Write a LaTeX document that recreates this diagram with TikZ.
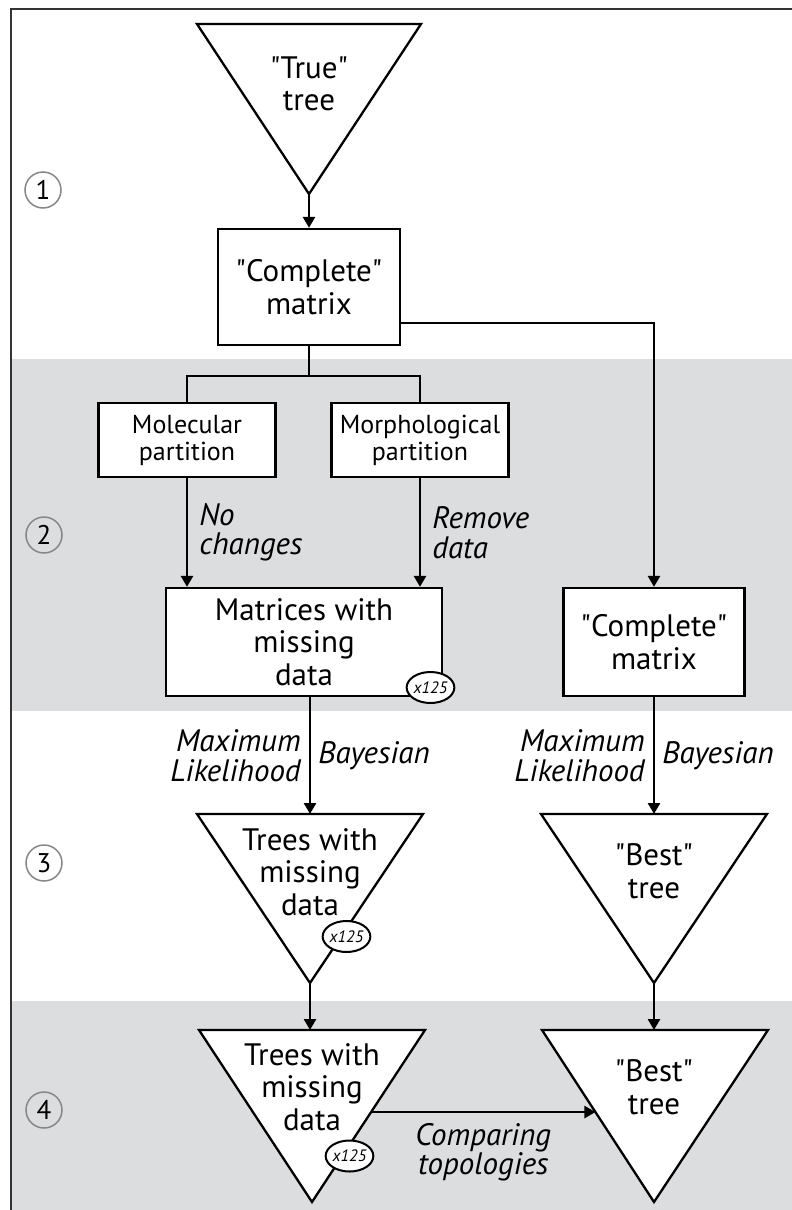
\documentclass[tikz,border=0pt]{standalone}
\usepackage{fontspec}
\setmainfont{PT Sans}
\usepackage{xcolor}
\usepackage{tikz}
\usetikzlibrary{arrows.meta,positioning,calc,shapes.geometric}
\definecolor{bandgray}{RGB}{220,221,223}
\definecolor{ringgray}{RGB}{135,135,135}
\newcommand{\qt}[1]{\textquotedbl#1\textquotedbl}

\begin{document}
\begin{tikzpicture}[x=1pt, y=-1pt,
    box/.style={draw, line width=2.3pt, fill=white, align=center, inner sep=0pt, font=\fontsize{31}{32.5}\selectfont},
    partbox/.style={box, minimum width=177pt, minimum height=74pt, font=\fontsize{26}{27}\selectfont},
    tri/.style={draw, line width=2.3pt, fill=white, line join=miter},
    trilabel/.style={align=center, inner sep=0pt, font=\fontsize{31}{32.5}\selectfont},
    lbl/.style={inner sep=0pt, font=\fontsize{31}{29.5}\itshape},
    rep/.style={draw, ellipse, line width=2pt, fill=white, minimum width=47pt, minimum height=31pt, inner sep=0pt, font=\fontsize{16.5}{16.5}\itshape},
    stage/.style={circle, draw=ringgray, line width=1.5pt, minimum size=36pt, inner sep=0pt, font=\fontsize{27}{27}\selectfont},
    arr/.style={-{Triangle[length=11pt, width=12pt]}, line width=2.6pt},
    link/.style={line width=2.6pt},
]
    \useasboundingbox (0,0) rectangle (792,1210);

    % Bands
    \fill[bandgray] (11,359) rectangle (792,711);
    \fill[bandgray] (11,1001) rectangle (792,1210);
    \draw[line width=1.5pt, black!80] (11,1210) -- (11,9) -- (792,9);

    % Stage numbers
    \node[stage] (s1) at (43,190) {1};
    \node[stage] (s2) at (44,535) {2};
    \node[stage] (s3) at (44,863) {3};
    \node[stage] (s4) at (44,1110) {4};

    % Stage 1
    \draw[tri] (197,24) -- (421,24) -- (309,194) -- cycle;
    \coordinate (t1-tip) at (309,194);
    \node[trilabel] (t1) at (309,84) {\qt{True}\\tree};
    \node[box, minimum width=182pt, minimum height=116pt] (cm1) at (309,287) {\qt{Complete}\\matrix};
    \draw[arr] (t1-tip) -- (cm1);

    % Stage 2
    \node[partbox] (mol) at (187,440) {Molecular\\partition};
    \node[partbox] (morph) at (420,440) {Morphological\\partition};
    \node[box, minimum width=276pt, minimum height=108pt] (mat) at (304,642) {Matrices with\\missing\\data};
    \node[rep] (mat-rep) at (430.5,687.5) {x125};
    \node[box, minimum width=181pt, minimum height=108pt] (cm2) at (654,642) {\qt{Complete}\\matrix};

    \coordinate (split) at (309,376);
    \draw[link] (cm1) -- (split);
    \draw[link] (mol.north) |- (split) -| (morph.north);
    \draw[arr] (mol) -- node[lbl, align=left, right=11pt] {No\\changes} (mol |- mat.north);
    \draw[arr] (morph) -- node[lbl, align=left, right=11pt] {Remove\\data} (morph |- mat.north);
    \draw[arr] ([yshift=-36pt]cm1.east) -| (cm2);

    % Stage 3
    \draw[tri] (197,814) -- (423,814) -- (310,983) -- cycle;
    \coordinate (t3a-top) at (310,814);
    \coordinate (t3a-tip) at (310,983);
    \node[trilabel] (t3a) at (310,872) {Trees with\\missing\\data};
    \node[rep] (t3a-rep) at (346.5,936.5) {x125};

    \draw[tri] (541,814) -- (767,814) -- (654,983) -- cycle;
    \coordinate (t3b-top) at (654,814);
    \coordinate (t3b-tip) at (654,983);
    \node[trilabel] (t3b) at (654,871) {\qt{Best}\\tree};

    \draw[arr] (mat.south -| t3a-top) -- node[lbl, align=right, left=8pt] {Maximum\\Likelihood} node[lbl, right=7pt] {Bayesian} (t3a-top);
    \draw[arr] (cm2) -- node[lbl, align=right, left=8pt] {Maximum\\Likelihood} node[lbl, right=7pt] {Bayesian} (t3b-top);

    % Stage 4
    \draw[tri] (199,1030) -- (425,1030) -- (312,1202) -- cycle;
    \coordinate (t4a-top) at (312,1030);
    \coordinate (t4a-out) at ($(425,1030)!0.477!(312,1202)$);
    \node[trilabel] (t4a) at (312,1087) {Trees with\\missing\\data};
    \node[rep] (t4a-rep) at (349.5,1156) {x125};

    \draw[tri] (542,1030) -- (768,1030) -- (654,1202) -- cycle;
    \coordinate (t4b-top) at (654,1030);
    \coordinate (t4b-in) at ($(542,1030)!0.477!(654,1202)$);
    \node[trilabel] (t4b) at (654,1087) {\qt{Best}\\tree};

    \draw[arr] (t3a-tip) -- (t3a-tip |- t4a-top);
    \draw[arr] (t3b-tip) -- (t4b-top);
    \draw[arr] (t4a-out) -- node[lbl, align=center, below=10pt] {Comparing\\topologies} (t4b-in);
\end{tikzpicture}
\end{document}
